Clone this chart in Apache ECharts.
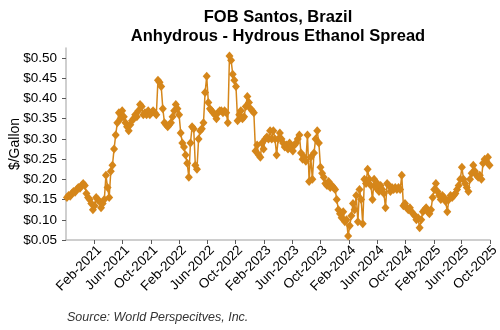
<!DOCTYPE html>
<html>
<head>
<meta charset="utf-8">
<title>FOB Santos, Brazil - Anhydrous - Hydrous Ethanol Spread</title>
<script src="https://cdn.jsdelivr.net/npm/echarts@6/dist/echarts.min.js"></script>
<style>
  html, body { margin: 0; padding: 0; background: #ffffff; }
  #chart { width: 500px; height: 330px; }
</style>
</head>
<body>
<div id="chart"></div>
<script>
// Weekly anhydrous minus hydrous ethanol price spread, FOB Santos ($/gallon).
// First observation is the week of 5 Oct 2020; one value per week after that.
const firstWeek = [2020, 9, 5];

const spread2020 = [0.155, 0.16, 0.158, 0.165, 0.17, 0.168, 0.175, 0.18, 0.178, 0.185, 0.19, 0.185, 0.165];
const spread2021 = [
  0.155, 0.15, 0.14, 0.125, 0.135, 0.155, 0.15, 0.145, 0.13, 0.14,
  0.15, 0.21, 0.18, 0.155, 0.22, 0.235, 0.275, 0.31, 0.34, 0.365,
  0.35, 0.37, 0.355, 0.34, 0.33, 0.32, 0.335, 0.345, 0.35, 0.36, 0.355, 0.37,
  0.385, 0.38, 0.36, 0.365, 0.36, 0.37, 0.36, 0.365, 0.37, 0.365, 0.36,
  0.445, 0.44, 0.43, 0.375, 0.34, 0.335, 0.33,
  0.335, 0.34
];
const spread2022 = [
  0.355, 0.37, 0.385, 0.375, 0.36,
  0.315, 0.29, 0.28, 0.26, 0.24, 0.205, 0.29, 0.33, 0.325, 0.235, 0.225, 0.30,
  0.32, 0.325, 0.34, 0.415, 0.455, 0.39,
  0.375, 0.37, 0.365, 0.36, 0.35, 0.365, 0.37, 0.37, 0.365, 0.37, 0.365, 0.34, 0.505,
  0.495, 0.46, 0.445, 0.43, 0.345, 0.36, 0.37, 0.35, 0.355, 0.38, 0.405, 0.39,
  0.375, 0.37, 0.365, 0.27
];
const spread2023 = [
  0.285, 0.26, 0.255, 0.29, 0.275, 0.30, 0.305, 0.30, 0.32, 0.30, 0.32, 0.30,
  0.26, 0.30, 0.315, 0.30, 0.29, 0.28, 0.285, 0.275, 0.29, 0.28,
  0.27, 0.285, 0.29, 0.30, 0.31, 0.265, 0.25, 0.255, 0.245, 0.31,
  0.195, 0.255, 0.20, 0.265, 0.30, 0.32, 0.29, 0.23, 0.215, 0.205,
  0.19, 0.185, 0.195, 0.18, 0.185, 0.18, 0.175, 0.15, 0.125, 0.115
];
const spread2024 = [
  0.105, 0.12, 0.095, 0.10, 0.06, 0.085, 0.11, 0.14, 0.125, 0.16,
  0.095, 0.175, 0.15, 0.09, 0.20, 0.19, 0.225, 0.20, 0.185, 0.15,
  0.20, 0.18, 0.19, 0.17, 0.185, 0.175, 0.165, 0.13, 0.19, 0.185,
  0.17, 0.18, 0.175, 0.18, 0.175, 0.18, 0.175, 0.21, 0.135, 0.14,
  0.13, 0.125, 0.13, 0.12, 0.115, 0.11, 0.10, 0.105, 0.08, 0.10, 0.12, 0.125, 0.13
];
const spread2025 = [
  0.12, 0.115, 0.125, 0.155, 0.175, 0.19, 0.17, 0.16, 0.15, 0.16,
  0.155, 0.145, 0.12, 0.15, 0.16, 0.155, 0.16, 0.165, 0.175, 0.185,
  0.20, 0.23, 0.20, 0.19, 0.18, 0.17, 0.20, 0.215, 0.235, 0.22,
  0.21, 0.205, 0.21, 0.20, 0.24, 0.25, 0.245, 0.255, 0.235
];

// Date-axis labels every four months
const tickLabels = [
  'Feb-2021', 'Jun-2021', 'Oct-2021', 'Feb-2022', 'Jun-2022', 'Oct-2022',
  'Feb-2023', 'Jun-2023', 'Oct-2023', 'Feb-2024', 'Jun-2024', 'Oct-2024',
  'Feb-2025', 'Jun-2025', 'Oct-2025'
];
const yTicks = [0.05, 0.10, 0.15, 0.20, 0.25, 0.30, 0.35, 0.40, 0.45, 0.50];

const monthNames = ['Jan', 'Feb', 'Mar', 'Apr', 'May', 'Jun', 'Jul', 'Aug', 'Sep', 'Oct', 'Nov', 'Dec'];
function labelToTime(label) {
  const [mon, yr] = label.split('-');
  return new Date(Number(yr), monthNames.indexOf(mon), 1).getTime();
}
function timeToLabel(t) {
  const d = new Date(t);
  return monthNames[d.getMonth()] + '-' + d.getFullYear();
}

const values = [].concat(spread2020, spread2021, spread2022, spread2023, spread2024, spread2025);
const seriesData = values.map((v, i) => [
  new Date(firstWeek[0], firstWeek[1], firstWeek[2] + 7 * i).getTime(), v
]);
const tickTimes = tickLabels.map(labelToTime);

const FONT = "'Liberation Sans', Arial, sans-serif";
const ORANGE = '#D5861A';

const chart = echarts.init(document.getElementById('chart'), null, { renderer: 'canvas' });
chart.setOption({
  backgroundColor: '#ffffff',
  animation: false,
  title: {
    text: 'FOB Santos, Brazil\nAnhydrous - Hydrous Ethanol Spread',
    left: 273,
    top: 3,
    textAlign: 'center',
    textStyle: {
      fontFamily: FONT, fontSize: 16.5, fontWeight: 'bold', color: '#000000', lineHeight: 19
    }
  },
  graphic: [{
    type: 'text',
    left: 67,
    top: 311,
    style: {
      text: 'Source: World Perspecitves, Inc.',
      font: "italic 12.5px 'Liberation Sans', Arial, sans-serif",
      fill: '#333333'
    }
  }],
  grid: { left: 66, right: 10, top: 48, bottom: 90, containLabel: false, outerBoundsMode: 'none' },
  // Dates are plotted as millisecond timestamps on a linear axis
  xAxis: {
    type: 'value',
    min: new Date(2020, 9, 1).getTime(),
    max: new Date(2025, 9, 1).getTime(),
    splitLine: { show: false },
    axisLine: { show: true, lineStyle: { color: '#BFBFBF', width: 1.5 } },
    axisTick: {
      show: true, inside: false, length: 4,
      customValues: tickTimes,
      lineStyle: { color: '#595959', width: 1 }
    },
    axisLabel: {
      customValues: tickTimes,
      formatter: (v) => timeToLabel(v),
      rotate: 45,
      margin: 3,
      verticalAlign: 'top',
      fontFamily: FONT,
      fontSize: 13.5,
      color: '#000000',
      hideOverlap: false
    }
  },
  yAxis: {
    type: 'value',
    min: 0.05,
    max: 0.525,
    name: '$/Gallon',
    nameLocation: 'middle',
    nameRotate: 90,
    nameGap: 44,
    nameMoveOverlap: false,
    nameTextStyle: { fontFamily: FONT, fontSize: 14, color: '#000000' },
    splitLine: { show: false },
    axisLine: { show: true, lineStyle: { color: '#BFBFBF', width: 1.5 } },
    axisTick: {
      show: true, inside: false, length: 4,
      customValues: yTicks,
      lineStyle: { color: '#595959', width: 1 }
    },
    axisLabel: {
      customValues: yTicks,
      formatter: (v) => '$' + v.toFixed(2),
      margin: 9,
      fontFamily: FONT,
      fontSize: 13.5,
      color: '#000000'
    }
  },
  series: [{
    type: 'line',
    data: seriesData,
    showAllSymbol: true,
    symbol: 'diamond',
    symbolSize: [8, 9],
    itemStyle: { color: ORANGE, borderWidth: 0 },
    lineStyle: { color: ORANGE, width: 1.5 },
    emphasis: { disabled: true }
  }]
});
</script>
</body>
</html>
